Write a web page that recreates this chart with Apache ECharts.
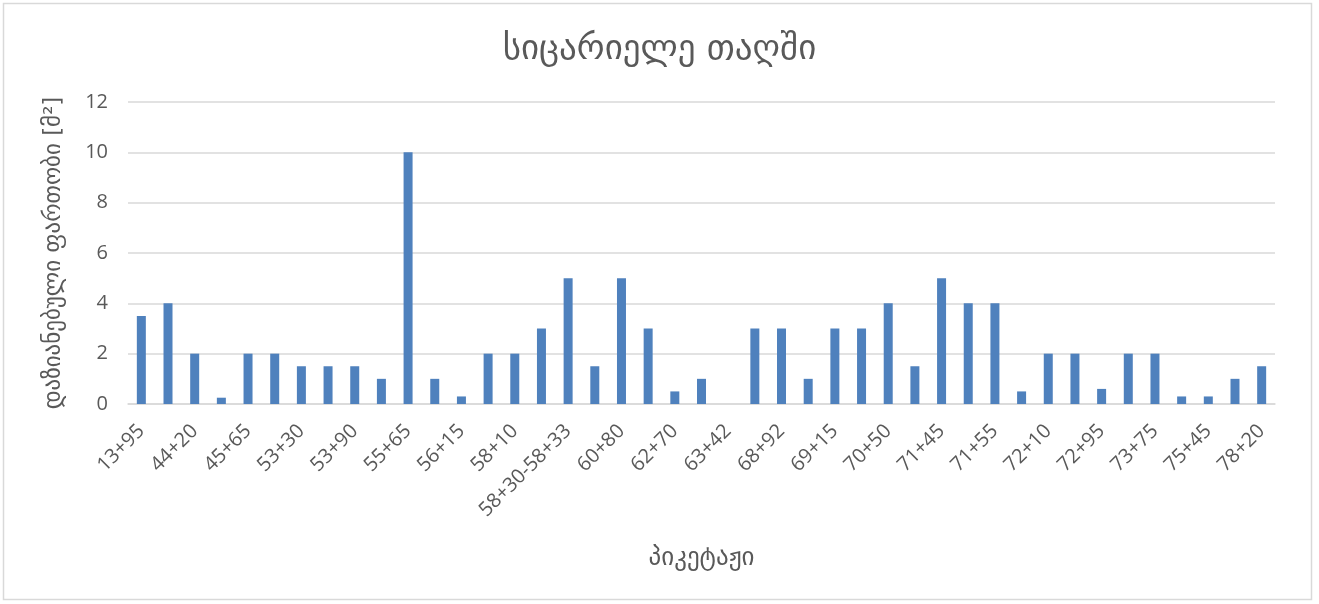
<!DOCTYPE html>
<html>
<head>
<meta charset="utf-8">
<script src="https://cdn.jsdelivr.net/npm/echarts@6/dist/echarts.min.js"></script>
<style>
  html, body { margin: 0; padding: 0; background: #fff; }
  #chart { width: 1319px; height: 604px; }
</style>
</head>
<body>
<div id="chart"></div>
<script>
// პიკეტები (ყოველი მეორე ნაჩვენებია ღერძზე)
const pickets = [
  '13+95', '40+10', '44+20', '44+80', '45+65', '52+10', '53+30', '53+60',
  '53+90', '54+50', '55+65', '55+90', '56+15', '57+00', '58+10', '58+20',
  '58+30-58+33', '59+50', '60+80', '61+40', '62+70', '63+10', '63+42', '65+20',
  '68+92', '69+05', '69+15', '70+10', '70+50', '71+20', '71+45', '71+50',
  '71+55', '71+90', '72+10', '72+50', '72+95', '73+40', '73+75', '74+80',
  '75+45', '76+30', '78+20'
];

// დაზიანებული ფართობი, მ²
const damagedArea = [
  3.5, 4, 2, 0.25, 2, 2, 1.5, 1.5,
  1.5, 1, 10, 1, 0.3, 2, 2, 3,
  5, 1.5, 5, 3, 0.5, 1, 0, 3,
  3, 1, 3, 3, 4, 1.5, 5, 4,
  4, 0.5, 2, 2, 0.6, 2, 2, 0.3,
  0.3, 1, 1.5
];

const yTicks = [0, 2, 4, 6, 8, 10, 12];

const FONT = '"DejaVu Sans", "Noto Sans", sans-serif';
const NUMFONT = '"Open Sans", "DejaVu Sans", sans-serif';
const TEXT = '#595959';

var chart = echarts.init(document.getElementById('chart'));

const option = {
  backgroundColor: '#fff',
  animation: false,
  graphic: [{
    type: 'rect',
    shape: { x: 3.5, y: 3.5, width: 1308, height: 596 },
    style: { fill: 'none', stroke: '#d9d9d9', lineWidth: 1.5 },
    silent: true
  }],
  title: {
    text: 'სიცარიელე თაღში',
    left: 'center',
    top: 27,
    textStyle: {
      fontFamily: FONT,
      fontSize: 35,
      fontWeight: 'normal',
      color: TEXT
    }
  },
  grid: {
    left: 128,
    right: 44,
    top: 102,
    bottom: 200,
    containLabel: false
  },
  xAxis: {
    type: 'category',
    data: pickets,
    name: 'პიკეტაჟი',
    nameLocation: 'middle',
    nameGap: 142,
    nameTextStyle: { fontFamily: FONT, fontSize: 25, color: TEXT },
    axisLine: { lineStyle: { color: '#d9d9d9', width: 1.5 } },
    axisTick: { show: false },
    axisLabel: {
      interval: 1,
      rotate: 45,
      margin: 24,
      fontFamily: NUMFONT,
      fontSize: 20,
      color: TEXT
    }
  },
  yAxis: {
    type: 'value',
    min: yTicks[0],
    max: yTicks[yTicks.length - 1],
    interval: 2,
    name: 'დაზიანებული ფართობი [მ²]',
    nameLocation: 'middle',
    nameGap: 62,
    nameTextStyle: { fontFamily: FONT, fontSize: 23, color: TEXT },
    axisLine: { show: false },
    axisTick: { show: false },
    axisLabel: {
      margin: 20,
      fontFamily: NUMFONT,
      fontSize: 20,
      color: TEXT
    },
    splitLine: { lineStyle: { color: '#d9d9d9', width: 1.5 } }
  },
  series: [{
    type: 'bar',
    data: damagedArea,
    barWidth: 9,
    itemStyle: { color: '#4f81bd' }
  }]
};

chart.setOption(option);
</script>
</body>
</html>
